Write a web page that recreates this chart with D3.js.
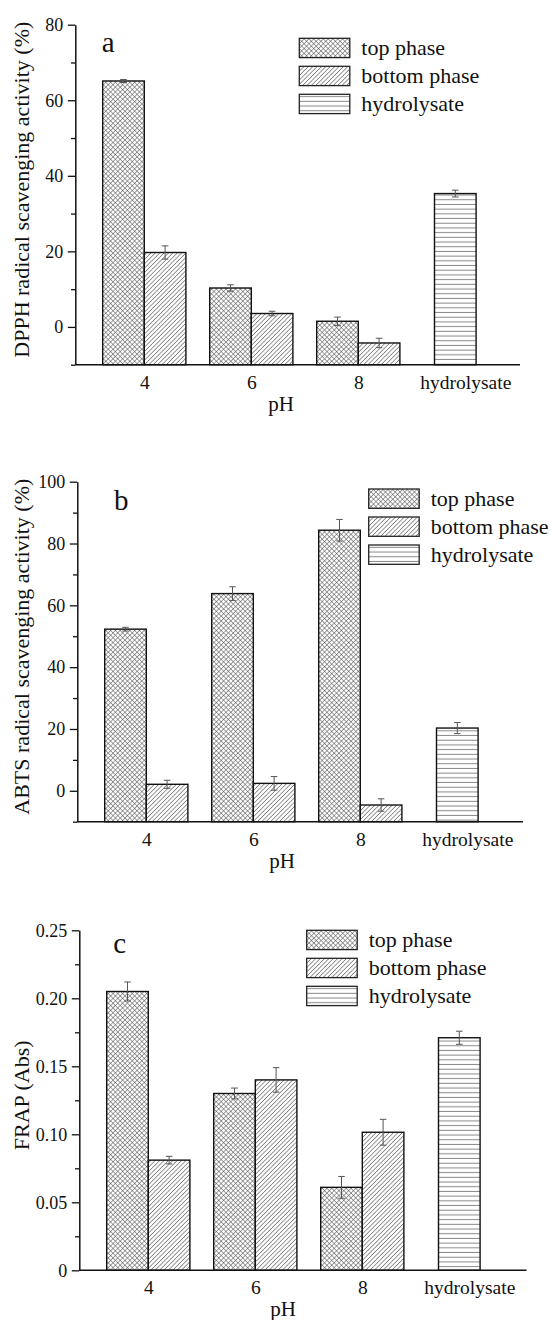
<!DOCTYPE html>
<html>
<head>
<meta charset="utf-8">
<script src="https://cdn.jsdelivr.net/npm/d3@7"></script>
<style>
  body { margin: 0; background: #fff; }
  svg text { font-family: "Liberation Serif", "Times New Roman", serif; fill: #111; }
</style>
</head>
<body>
<div id="chart"></div>
<script>
// categories on the x axis
const categories = ["4", "6", "8", "hydrolysate"];
const phValues = ["4", "6", "8"];
const seriesNames = ["top phase", "bottom phase", "hydrolysate"];

// panel a - DPPH radical scavenging activity (%)
const dpphTop = [65.1, 10.3, 1.5];
const dpphTopErr = [0.4, 0.85, 1.1];
const dpphBottom = [19.7, 3.55, -4.25];
const dpphBottomErr = [1.75, 0.6, 1.25];
const dpphHydro = [35.3];
const dpphHydroErr = [0.9];

// panel b - ABTS radical scavenging activity (%)
const abtsTop = [52.3, 63.8, 84.3];
const abtsTopErr = [0.6, 2.2, 3.5];
const abtsBottom = [2.1, 2.4, -4.6];
const abtsBottomErr = [1.3, 2.2, 2.0];
const abtsHydro = [20.3];
const abtsHydroErr = [1.8];

// panel c - FRAP (Abs)
const frapTop = [0.205, 0.130, 0.061];
const frapTopErr = [0.007, 0.004, 0.008];
const frapBottom = [0.081, 0.140, 0.1015];
const frapBottomErr = [0.0028, 0.009, 0.0095];
const frapHydro = [0.171];
const frapHydroErr = [0.0048];

// axis ticks
const dpphMajor = [0, 20, 40, 60, 80];
const dpphMinor = [-10, 10, 30, 50, 70];
const abtsMajor = [0, 20, 40, 60, 80, 100];
const abtsMinor = [-10, 10, 30, 50, 70, 90];
const frapMajor = [0, 0.05, 0.10, 0.15, 0.20, 0.25];
const frapMinor = [0.025, 0.075, 0.125, 0.175, 0.225];

const width = 552;
const height = 1320;

const svg = d3.select("#chart").append("svg")
    .attr("width", width)
    .attr("height", height)
    .attr("viewBox", [0, 0, width, height]);

svg.append("rect").attr("width", width).attr("height", height).attr("fill", "#fff");

// hatch patterns
const defs = svg.append("defs");

const cross = defs.append("pattern")
    .attr("id", "pat-top")
    .attr("patternUnits", "userSpaceOnUse")
    .attr("width", 3.4).attr("height", 3.4)
    .attr("patternTransform", "rotate(45)");
cross.append("rect").attr("width", 3.4).attr("height", 3.4).attr("fill", "#fff");
cross.append("line").attr("x1", 0).attr("y1", 0.3).attr("x2", 3.4).attr("y2", 0.3)
    .attr("stroke", "#4a4a4a").attr("stroke-width", 0.6);
cross.append("line").attr("x1", 0.3).attr("y1", 0).attr("x2", 0.3).attr("y2", 3.4)
    .attr("stroke", "#4a4a4a").attr("stroke-width", 0.6);

const diag = defs.append("pattern")
    .attr("id", "pat-bottom")
    .attr("patternUnits", "userSpaceOnUse")
    .attr("width", 3.1).attr("height", 3.1)
    .attr("patternTransform", "rotate(45)");
diag.append("rect").attr("width", 3.1).attr("height", 3.1).attr("fill", "#fff");
diag.append("line").attr("x1", 0.3).attr("y1", 0).attr("x2", 0.3).attr("y2", 3.1)
    .attr("stroke", "#4a4a4a").attr("stroke-width", 0.65);

const horiz = defs.append("pattern")
    .attr("id", "pat-hydro")
    .attr("patternUnits", "userSpaceOnUse")
    .attr("width", 10).attr("height", 4.7);
horiz.append("rect").attr("width", 10).attr("height", 4.7).attr("fill", "#fff");
horiz.append("line").attr("x1", 0).attr("y1", 2.3).attr("x2", 10).attr("y2", 2.3)
    .attr("stroke", "#666").attr("stroke-width", 0.8);

const fills = ["url(#pat-top)", "url(#pat-bottom)", "url(#pat-hydro)"];

const panels = [
    {
        letter: "a", left: 75.3, top: 24.7, right: 520, domain: [-10, 80],
        top_: dpphTop, topErr: dpphTopErr, bottom: dpphBottom, bottomErr: dpphBottomErr,
        hydro: dpphHydro, hydroErr: dpphHydroErr,
        major: dpphMajor, minor: dpphMinor, fmt: d3.format("d"),
        title: "DPPH radical scavenging activity (%)",
        legend: [299.3, 38.3], letterPos: [101.7, 51.7], phX: 281
    },
    {
        letter: "b", left: 77.3, top: 481.7, right: 523, domain: [-10, 100],
        top_: abtsTop, topErr: abtsTopErr, bottom: abtsBottom, bottomErr: abtsBottomErr,
        hydro: abtsHydro, hydroErr: abtsHydroErr,
        major: abtsMajor, minor: abtsMinor, fmt: d3.format("d"),
        title: "ABTS radical scavenging activity (%)",
        legend: [368.7, 489], letterPos: [114, 510], phX: 282
    },
    {
        letter: "c", left: 79.3, top: 930.3, right: 526.5, domain: [0, 0.25],
        top_: frapTop, topErr: frapTopErr, bottom: frapBottom, bottomErr: frapBottomErr,
        hydro: frapHydro, hydroErr: frapHydroErr,
        major: frapMajor, minor: frapMinor, fmt: d => d === 0 ? "0" : d3.format(".2f")(d),
        title: "FRAP (Abs)",
        legend: [306.7, 930.3], letterPos: [113.3, 953.3], phX: 283
    }
];

const plotH = 340;
const barW = 41.6;

panels.forEach(p => {
    const g = svg.append("g");
    const bottomY = p.top + plotH;

    const y = d3.scaleLinear().domain(p.domain).range([bottomY, p.top]);
    const x = d3.scalePoint().domain(categories)
        .range([p.left + 69, p.left + 69 + 3 * 107]);

    // bar records built from the series arrays
    const bars = [];
    phValues.forEach((c, i) => {
        bars.push({ x0: x(c) - barW, v: p.top_[i], e: p.topErr[i], s: 0 });
        bars.push({ x0: x(c), v: p.bottom[i], e: p.bottomErr[i], s: 1 });
    });
    bars.push({ x0: x("hydrolysate") - 30.8, v: p.hydro[0], e: p.hydroErr[0], s: 2 });

    g.selectAll("rect.bar")
        .data(bars)
        .join("rect")
        .attr("class", "bar")
        .attr("x", d => d.x0)
        .attr("y", d => y(d.v))
        .attr("width", barW)
        .attr("height", d => bottomY - y(d.v))
        .attr("fill", d => fills[d.s])
        .attr("stroke", "#111")
        .attr("stroke-width", 1.4);

    // error bars
    const err = g.append("g").attr("stroke", "#555").attr("stroke-width", 1);
    err.selectAll("line.v")
        .data(bars)
        .join("line")
        .attr("class", "v")
        .attr("x1", d => d.x0 + barW / 2).attr("x2", d => d.x0 + barW / 2)
        .attr("y1", d => y(d.v - d.e)).attr("y2", d => y(d.v + d.e));
    err.selectAll("line.hi")
        .data(bars)
        .join("line")
        .attr("class", "hi")
        .attr("x1", d => d.x0 + barW / 2 - 3.3).attr("x2", d => d.x0 + barW / 2 + 3.3)
        .attr("y1", d => y(d.v + d.e)).attr("y2", d => y(d.v + d.e));
    err.selectAll("line.lo")
        .data(bars)
        .join("line")
        .attr("class", "lo")
        .attr("x1", d => d.x0 + barW / 2 - 3.3).attr("x2", d => d.x0 + barW / 2 + 3.3)
        .attr("y1", d => y(d.v - d.e)).attr("y2", d => y(d.v - d.e));

    // y axis, major and minor ticks
    const yAxis = g.append("g")
        .attr("transform", `translate(${p.left},0)`)
        .call(d3.axisLeft(y).tickValues(p.major).tickSize(7.5).tickSizeOuter(0)
            .tickPadding(4.5).tickFormat(p.fmt));
    yAxis.select(".domain").attr("stroke", "#111").attr("stroke-width", 1.5);
    yAxis.selectAll(".tick line").attr("stroke", "#111").attr("stroke-width", 1.3);
    yAxis.selectAll(".tick text")
        .attr("font-size", 18)
        .attr("fill", "#111");

    const yMinor = g.append("g")
        .attr("transform", `translate(${p.left},0)`)
        .call(d3.axisLeft(y).tickValues(p.minor).tickSize(4.3).tickSizeOuter(0).tickFormat(""));
    yMinor.select(".domain").remove();
    yMinor.selectAll(".tick line").attr("stroke", "#111").attr("stroke-width", 1.3);

    // x axis
    g.append("line")
        .attr("x1", p.left).attr("x2", p.right)
        .attr("y1", bottomY).attr("y2", bottomY)
        .attr("stroke", "#111").attr("stroke-width", 1.5);
    const xAxis = g.append("g")
        .attr("transform", `translate(0,${bottomY})`)
        .call(d3.axisBottom(x).tickSize(0));
    xAxis.select(".domain").remove();
    xAxis.selectAll(".tick text")
        .attr("y", 24).attr("dy", 0)
        .attr("font-size", 19.5)
        .attr("fill", "#111");

    // axis titles
    g.append("text")
        .attr("x", p.phX).attr("y", bottomY + 46)
        .attr("text-anchor", "middle")
        .attr("font-size", 21)
        .text("pH");

    g.append("text")
        .attr("transform", `translate(29,${(p.top + bottomY) / 2 - 5}) rotate(-90)`)
        .attr("text-anchor", "middle")
        .attr("font-size", 22)
        .text(p.title);

    // panel letter
    g.append("text")
        .attr("x", p.letterPos[0]).attr("y", p.letterPos[1])
        .attr("font-size", 29)
        .text(p.letter);

    // legend
    const lg = g.append("g").attr("transform", `translate(${p.legend[0]},${p.legend[1]})`);
    const item = lg.selectAll("g")
        .data(seriesNames)
        .join("g")
        .attr("transform", (d, i) => `translate(0,${i * 28})`);
    item.append("rect")
        .attr("width", 50.5).attr("height", 19.3)
        .attr("fill", (d, i) => fills[i])
        .attr("stroke", "#222").attr("stroke-width", 1.3);
    item.append("text")
        .attr("x", 62).attr("y", 16.5)
        .attr("font-size", 22)
        .text(d => d);
});
</script>
</body>
</html>
